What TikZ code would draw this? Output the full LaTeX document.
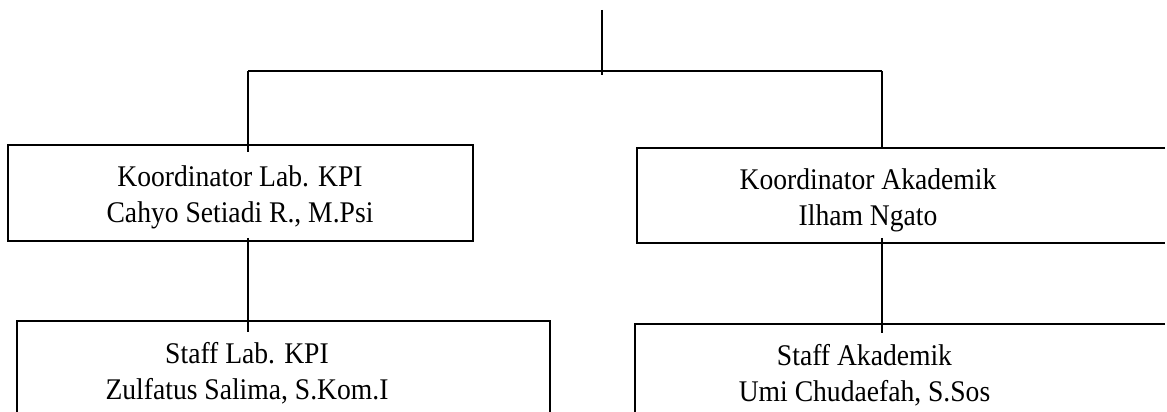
\documentclass[tikz,border=0pt]{standalone}
\usepackage{fontspec}
\setmainfont{Liberation Serif}[FakeStretch=0.92]
\usetikzlibrary{calc}
\begin{document}
\begin{tikzpicture}[x=1pt,y=1pt,
  line width=1.7pt,
  caption/.style={anchor=base, inner sep=0pt, font=\fontsize{30}{36}\selectfont}]
\useasboundingbox (0,0) rectangle (1167,-412);

% outlines of the units; the right-hand ones are open towards the page edge
\node[rectangle, inner sep=0pt, minimum width=463, minimum height=94]  (k1) at (240.5,-193) {};
\node[rectangle, inner sep=0pt, minimum width=547, minimum height=93]  (k2) at (911.5,-195.5) {};
\node[rectangle, inner sep=0pt, minimum width=531, minimum height=108] (s1) at (283.5,-376) {};
\node[rectangle, inner sep=0pt, minimum width=549, minimum height=105] (s2) at (910.5,-377.5) {};
\draw (k1.south west) rectangle (k1.north east);
\draw ($(s1.north west)+(0,-100)$) -- (s1.north west) -- (s1.north east) -- ($(s1.north east)+(0,-100)$);
\draw ($(k2.north west)+(528,0)$) -- (k2.north west) -- (k2.south west) -- ($(k2.south west)+(528,0)$);
\draw ($(s2.north west)+(530,0)$) -- (s2.north west) -- ($(s2.north west)+(0,-100)$);

% names inside the boxes
\newcommand{\twoline}[2]{\setlength{\tabcolsep}{0pt}\begin{tabular}[t]{c}#1\\#2\end{tabular}}
\node[caption] (k1t) at (240,-186)   {\twoline{Koordinator Lab. KPI}{Cahyo Setiadi R., M.Psi}};
\node[caption] (k2t) at (868,-189)   {\twoline{Koordinator Akademik}{Ilham Ngato}};
\node[caption] (s1t) at (247,-363)   {\twoline{Staff Lab. KPI}{Zulfatus Salima, S.Kom.I}};
\node[caption] (s2t) at (864.5,-365) {\twoline{Staff Akademik}{Umi Chudaefah, S.Sos}};

% connecting lines
\coordinate (top)  at (602,-10);
\coordinate (bus)  at (602,-71);
\coordinate (busL) at (248,-71);
\coordinate (busR) at (882,-71);
\draw (top) -- ($(bus)+(0,-4)$);
\draw (busL) -- (busR);
\draw (busL) -- ($(busL |- k1.north)+(0,-7)$);
\draw (busR) -- ($(busR |- k2.north)+(0,-1)$);
\draw ($(busL |- k1.south)+(0,3)$) -- ($(busL |- s1.north)+(0,-11)$);
\draw ($(busR |- k2.south)+(0,5)$) -- ($(busR |- s2.north)+(0,-9)$);
\end{tikzpicture}
\end{document}
